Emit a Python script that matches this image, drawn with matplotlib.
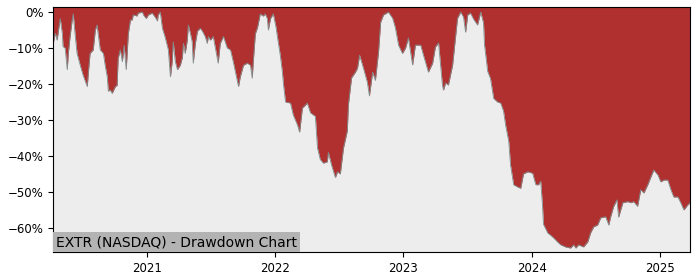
import pandas as pd
import matplotlib
matplotlib.use("Agg")
import matplotlib.pyplot as plt
import matplotlib.dates as mdates
from matplotlib.ticker import FuncFormatter

# drawdown (%)
dates = [
    "2020-04-08", "2020-04-14", "2020-04-19", "2020-04-28", "2020-05-04", "2020-05-06",
    "2020-05-12", "2020-05-18", "2020-05-21", "2020-05-26", "2020-06-01", "2020-06-04",
    "2020-06-10", "2020-06-15", "2020-06-24", "2020-07-02", "2020-07-14", "2020-07-17",
    "2020-07-22", "2020-07-31", "2020-08-06", "2020-08-11", "2020-08-14", "2020-08-20",
    "2020-08-29", "2020-09-03", "2020-09-09", "2020-09-12", "2020-09-17", "2020-09-23",
    "2020-10-02", "2020-10-07", "2020-10-10", "2020-10-16", "2020-10-22", "2020-10-27",
    "2020-11-02", "2020-11-08", "2020-11-14", "2020-11-19", "2020-11-22", "2020-12-03",
    "2020-12-06", "2020-12-18", "2020-12-21", "2020-12-29", "2021-01-04", "2021-01-15",
    "2021-01-24", "2021-01-30", "2021-02-01", "2021-02-07", "2021-02-13", "2021-02-21",
    "2021-03-02", "2021-03-08", "2021-03-13", "2021-03-16", "2021-03-22", "2021-03-28",
    "2021-04-05", "2021-04-11", "2021-04-14", "2021-04-19", "2021-04-25", "2021-04-28",
    "2021-05-04", "2021-05-09", "2021-05-12", "2021-05-18", "2021-05-24", "2021-06-01",
    "2021-06-07", "2021-06-15", "2021-06-21", "2021-06-24", "2021-06-30", "2021-07-08",
    "2021-07-22", "2021-07-28", "2021-08-06", "2021-08-17", "2021-08-26", "2021-09-03",
    "2021-09-18", "2021-09-23", "2021-10-02", "2021-10-13", "2021-10-22", "2021-10-27",
    "2021-10-30", "2021-11-05", "2021-11-11", "2021-11-19", "2021-11-25", "2021-11-28",
    "2021-12-03", "2021-12-09", "2021-12-12", "2021-12-18", "2021-12-23", "2021-12-26",
    "2022-01-03", "2022-01-07", "2022-01-15", "2022-01-21", "2022-01-24", "2022-01-30",
    "2022-02-13", "2022-02-21", "2022-03-05", "2022-03-11", "2022-03-19", "2022-04-02",
    "2022-04-11", "2022-04-25", "2022-05-01", "2022-05-09", "2022-05-18", "2022-05-29",
    "2022-06-01", "2022-06-10", "2022-06-21", "2022-06-27", "2022-07-05", "2022-07-14",
    "2022-07-25", "2022-07-28", "2022-08-06", "2022-08-17", "2022-08-23", "2022-08-29",
    "2022-09-09", "2022-09-20", "2022-09-26", "2022-10-05", "2022-10-13", "2022-10-22",
    "2022-10-28", "2022-11-05", "2022-11-19", "2022-12-01", "2022-12-09", "2022-12-18",
    "2022-12-29", "2023-01-07", "2023-01-15", "2023-01-27", "2023-02-04", "2023-02-19",
    "2023-02-27", "2023-03-13", "2023-03-25", "2023-04-02", "2023-04-11", "2023-04-22",
    "2023-04-25", "2023-05-01", "2023-05-09", "2023-05-21", "2023-05-29", "2023-06-04",
    "2023-06-13", "2023-06-21", "2023-06-27", "2023-07-03", "2023-07-11", "2023-07-20",
    "2023-07-31", "2023-08-09", "2023-08-17", "2023-08-20", "2023-08-29", "2023-09-06",
    "2023-09-15", "2023-09-26", "2023-10-05", "2023-10-13", "2023-10-19", "2023-10-28",
    "2023-11-02", "2023-11-11", "2023-11-22", "2023-12-01", "2023-12-09", "2023-12-21",
    "2024-01-04", "2024-01-13", "2024-01-21", "2024-01-27", "2024-02-01", "2024-02-04",
    "2024-02-16", "2024-02-24", "2024-03-04", "2024-03-15", "2024-03-24", "2024-04-07",
    "2024-04-21", "2024-04-30", "2024-05-06", "2024-05-14", "2024-05-28", "2024-06-09",
    "2024-06-17", "2024-06-26", "2024-07-07", "2024-07-16", "2024-07-30", "2024-08-08",
    "2024-08-13", "2024-08-22", "2024-08-31", "2024-09-05", "2024-09-17", "2024-10-01",
    "2024-10-10", "2024-10-18", "2024-10-29", "2024-11-07", "2024-11-16", "2024-11-27",
    "2024-12-06", "2024-12-14", "2024-12-26", "2025-01-03", "2025-01-12", "2025-01-23",
    "2025-02-01", "2025-02-09", "2025-02-21", "2025-03-01", "2025-03-10", "2025-03-21",
    "2025-03-28",
]
drawdown = [
    -8.7, -5.9, -7.8, -1.8, -6.0, -9.6,
    -10.0, -16.0, -11.5, -6.8, -2.2, -0.5,
    -6.8, -11.5, -14.8, -17.5, -20.7, -17.0,
    -11.5, -10.5, -5.0, -3.6, -6.0, -10.5,
    -11.5, -14.8, -18.0, -22.0, -21.6, -22.6,
    -20.7, -20.4, -12.9, -10.5, -13.8, -9.2,
    -16.0, -6.0, -2.2, -2.2, -0.8, -1.1,
    -0.3, 0.0, -0.8, -1.8, -0.8, -0.3,
    -1.5, -2.5, -0.8, 0.0, -4.5, -7.0,
    -10.5, -18.0, -13.8, -8.3, -13.8, -16.0,
    -14.8, -12.6, -8.7, -11.5, -7.8, -3.6,
    -6.0, -8.3, -14.2, -8.7, -5.3, -4.5,
    -5.3, -6.8, -8.7, -6.8, -7.8, -6.8,
    -14.2, -8.7, -6.8, -10.0, -10.5, -13.8,
    -20.7, -18.0, -14.8, -14.2, -14.8, -18.4,
    -13.8, -6.0, -4.3, -0.5, -1.0, -1.1,
    -0.5, -1.8, -5.0, -1.8, -1.0, -0.5,
    -4.3, -7.0, -12.0, -16.7, -20.0, -25.0,
    -25.3, -28.6, -31.4, -33.4, -26.7, -25.3,
    -28.0, -29.0, -37.8, -41.0, -42.0, -41.6,
    -39.0, -42.5, -46.0, -44.4, -45.0, -37.8,
    -33.0, -25.8, -18.3, -16.7, -15.6, -12.0,
    -15.6, -19.5, -23.3, -16.7, -19.0, -11.0,
    -2.8, -0.8, 0.0, -1.7, -4.4, -9.2,
    -11.5, -10.0, -7.2, -14.7, -9.2, -9.2,
    -12.0, -16.7, -14.2, -9.7, -8.6, -20.3,
    -21.7, -19.7, -20.3, -14.7, -7.2, -1.7,
    0.0, -1.4, -5.6, -0.8, -0.3, -2.0,
    -3.6, 0.0, -3.0, -9.2, -16.5, -18.5,
    -24.0, -25.0, -25.3, -27.5, -31.4, -36.0,
    -42.5, -48.0, -48.6, -49.0, -45.0, -44.4,
    -44.8, -48.0, -48.0, -47.0, -53.6, -59.0,
    -61.4, -62.0, -62.8, -63.9, -64.7, -65.3,
    -65.6, -64.7, -65.6, -64.7, -65.3, -63.9,
    -61.4, -59.7, -59.2, -57.2, -56.9, -59.2,
    -57.0, -54.0, -52.2, -57.0, -53.0, -52.7,
    -53.0, -52.7, -54.0, -49.4, -50.3, -48.0,
    -45.8, -43.9, -45.3, -47.2, -46.7, -46.7,
    -49.4, -51.4, -51.4, -53.0, -55.0, -53.6,
    -53.0,
]
title = "EXTR (NASDAQ) - Drawdown Chart"

x = pd.to_datetime(dates)
y_top = 1.4

fig = plt.figure(figsize=(7, 2.8), dpi=100)
ax = fig.add_axes([0.076, 0.1, 0.91, 0.875])
ax.set_facecolor("#ededed")

# red area from the curve up to the top of the axes
ax.fill_between(x, drawdown, y_top, color="#b03030", linewidth=0)
ax.plot(x, drawdown, color="#7f8c8c", linewidth=0.6)

ax.set_xlim(x[0], x[-1])
ax.set_ylim(-66.7, y_top)
ax.yaxis.set_major_formatter(FuncFormatter(lambda v, p: f"{v:.0f}%".replace("-", "\u2212")))
ax.xaxis.set_major_locator(mdates.YearLocator())
ax.xaxis.set_major_formatter(mdates.DateFormatter("%Y"))
ax.tick_params(labelsize=8.5)

ax.text(0.004, 0.012, title, transform=ax.transAxes, fontsize=10, ha="left", va="bottom",
        bbox=dict(facecolor="#b3b3b3", edgecolor="none", pad=2))

fig.savefig("out.png", dpi=100)
